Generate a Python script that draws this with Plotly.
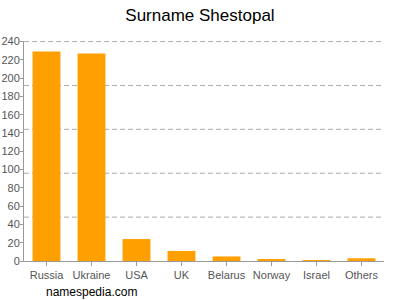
import plotly.graph_objects as go

countries = ["Russia", "Ukraine", "USA", "UK", "Belarus", "Norway", "Israel", "Others"]
counts = [229, 227, 24, 11, 5, 2, 1, 3]
y_ticks = list(range(0, 241, 20))
grid_vals = [48, 96, 144, 192, 240]

fig = go.Figure()
fig.add_trace(go.Bar(x=countries, y=counts, marker_color="#ffa000", marker_line_width=0))

fig.update_layout(
    width=400, height=300,
    margin=dict(l=24, r=16, t=41, b=39, autoexpand=False),
    paper_bgcolor="white", plot_bgcolor="white",
    showlegend=False,
    bargap=0.38,
    title=dict(text="Surname Shestopal", x=0.5, xanchor="center", y=0.95, yanchor="middle",
               font=dict(family="Liberation Sans, Arial", size=17, color="#000")),
    font=dict(family="Liberation Sans, Arial", size=11, color="#555"),
    xaxis=dict(showline=True, linecolor="#999", linewidth=1, ticks="outside", ticklen=4,
               tickcolor="#999", showgrid=False, automargin=False, tickfont=dict(size=11, color="#555")),
    yaxis=dict(range=[0, 240.6], tickvals=y_ticks, showline=True, linecolor="#999", linewidth=1,
               ticks="outside", ticklen=3, tickcolor="#999", showgrid=False, zeroline=False,
               automargin=False, ticklabelstandoff=-2, tickfont=dict(size=11, color="#555")),
)
for g in grid_vals:
    fig.add_shape(type="line", xref="paper", yref="y", x0=0, x1=1, y0=g, y1=g,
                  line=dict(color="#aaa", width=1, dash="5px,3px"), layer="below")
fig.add_annotation(text="namespedia.com", xref="paper", yref="paper", x=0.055, y=-0.141,
                   xanchor="left", yanchor="middle", showarrow=False,
                   font=dict(family="Liberation Sans, Arial", size=12, color="#000"))
fig.write_html("out.html")
